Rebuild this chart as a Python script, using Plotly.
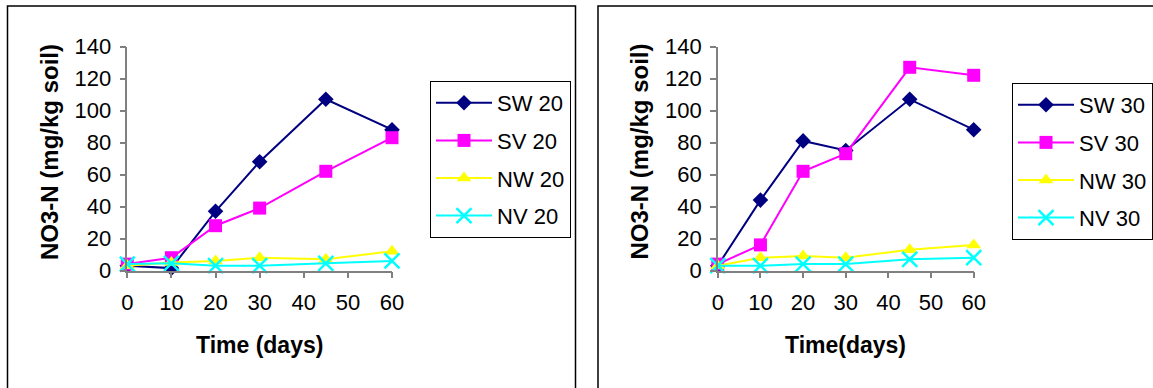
import plotly.graph_objects as go

days = [0, 10, 20, 30, 45, 60]

sw20 = [3, 1.5, 37, 68, 107, 88]
sv20 = [4, 8, 28, 39, 62, 83]
nw20 = [3, 5, 6, 8, 7, 12]
nv20 = [4, 4.5, 3, 3, 4.5, 6]

sw30 = [3, 44, 81, 75, 107, 88]
sv30 = [4, 16, 62, 73, 127, 122]
nw30 = [3, 8, 9, 8, 13, 16]
nv30 = [3, 3, 4, 4, 7, 8]

names20 = ["SW 20", "SV 20", "NW 20", "NV 20"]
names30 = ["SW 30", "SV 30", "NW 30", "NV 30"]
x_ticks = [0, 10, 20, 30, 40, 50, 60]
y_ticks = [0, 20, 40, 60, 80, 100, 120, 140]

colors = ["#000080", "#FF00FF", "#FFFF00", "#00FFFF"]
symbols = ["diamond", "square", "triangle-up", "x-thin"]
sizes = [12, 13, 13, 15]

W, H = 1153, 388
FONT = "Liberation Sans, Arial, sans-serif"

fig = go.Figure()

def add_series(series, names, xa, ya, legend):
    for i, (vals, nm) in enumerate(zip(series, names)):
        marker = dict(symbol=symbols[i], size=sizes[i], color=colors[i])
        if symbols[i] == "x-thin":
            marker["line"] = dict(color=colors[i], width=2.5)
        fig.add_trace(go.Scatter(
            x=days, y=vals, name=nm, mode="lines+markers",
            line=dict(color=colors[i], width=2),
            marker=marker, xaxis=xa, yaxis=ya, legend=legend,
            legendgroup=nm, cliponaxis=False))

add_series([sw20, sv20, nw20, nv20], names20, "x", "y", "legend")
add_series([sw30, sv30, nw30, nv30], names30, "x2", "y2", "legend2")

def px_x(p):
    return p / W

def px_y(p):
    return (H - p) / H

ydom = [px_y(270.5), px_y(46.5)]

axis_common = dict(
    showgrid=False, zeroline=False, showline=True, linecolor="#808080",
    linewidth=1.5, ticks="outside", ticklen=6, tickcolor="#808080",
    tickwidth=1.5, tickfont=dict(family=FONT, size=22, color="black"),
    fixedrange=True, automargin=False)

fig.update_layout(
    xaxis=dict(domain=[px_x(127.3), px_x(392)], range=[0, 60], tickvals=x_ticks,
               anchor="y", ticklabelstandoff=5, **axis_common),
    yaxis=dict(domain=ydom, range=[0, 140], tickvals=y_ticks, anchor="x",
               ticklabelstandoff=4, **axis_common),
    xaxis2=dict(domain=[px_x(717.8), px_x(973.7)], range=[0, 60], tickvals=x_ticks,
                anchor="y2", ticklabelstandoff=5, **axis_common),
    yaxis2=dict(domain=ydom, range=[0, 140], tickvals=y_ticks, anchor="x2",
                ticklabelstandoff=4, **axis_common),
)

legend_common = dict(
    bgcolor="white", bordercolor="black", borderwidth=1,
    font=dict(family=FONT, size=22, color="black"),
    xanchor="left", yanchor="top", traceorder="grouped", tracegroupgap=6,
    itemwidth=56, itemclick=False, itemdoubleclick=False)

fig.update_layout(
    legend=dict(x=px_x(430), y=px_y(81), **legend_common),
    legend2=dict(x=px_x(1012), y=px_y(83), **legend_common),
)

ytitle_font = dict(family=FONT, size=24, color="black")
xtitle_font = dict(family=FONT, size=23, color="black")
ann = [
    dict(text="<b>NO3-N (mg/kg soil)</b>", x=px_x(49), y=px_y(152), textangle=-90,
         font=ytitle_font),
    dict(text="<b>Time (days)</b>", x=px_x(259.7), y=px_y(345), font=xtitle_font),
    dict(text="<b>NO3-N (mg/kg soil)</b>", x=px_x(638.5), y=px_y(152), textangle=-90,
         font=ytitle_font),
    dict(text="<b>Time(days)</b>", x=px_x(845.8), y=px_y(345), font=xtitle_font),
]
for a in ann:
    fig.add_annotation(xref="paper", yref="paper", showarrow=False,
                       xanchor="center", yanchor="middle", **a)

# panel frames
fig.add_shape(type="rect", xref="paper", yref="paper",
              x0=px_x(7.5), x1=px_x(575.5), y0=px_y(400), y1=px_y(6),
              line=dict(color="black", width=1.5), layer="below")
fig.add_shape(type="rect", xref="paper", yref="paper",
              x0=px_x(598), x1=px_x(1165), y0=px_y(400), y1=px_y(6),
              line=dict(color="black", width=1.5), layer="below")

fig.update_layout(
    width=W, height=H,
    margin=dict(l=0, r=0, t=0, b=0, pad=0, autoexpand=False),
    paper_bgcolor="white", plot_bgcolor="rgba(0,0,0,0)",
    showlegend=True, font=dict(family=FONT),
)

fig.write_html("out.html", config={"displayModeBar": False})

with open("out.html", encoding="utf-8") as f:
    html = f.read()
html = html.replace("<head>", "<head><style>html,body{margin:0;padding:0;overflow:hidden;}</style>", 1)
with open("out.html", "w", encoding="utf-8") as f:
    f.write(html)
